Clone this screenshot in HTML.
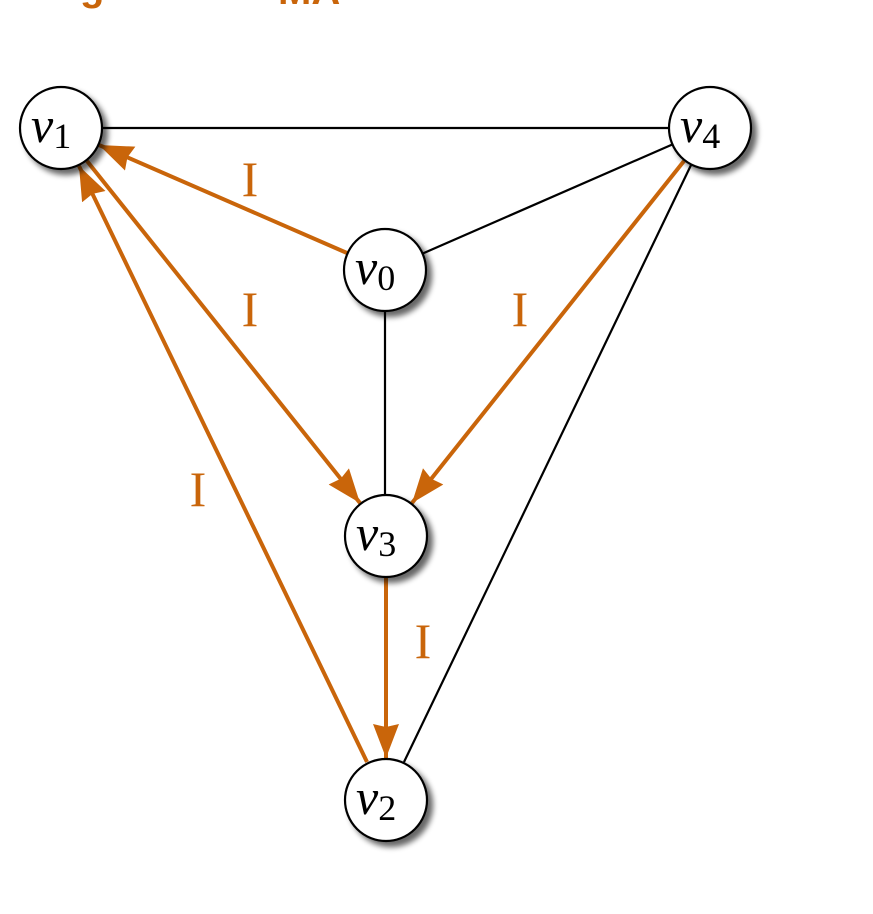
<!DOCTYPE html>
<html><head><meta charset="utf-8"><style>
html,body{margin:0;padding:0;background:#fff;}
svg{display:block}
</style></head><body>
<svg width="873" height="914" viewBox="0 0 873 914" xmlns="http://www.w3.org/2000/svg">
<defs>
<filter id="sh" x="-50%" y="-50%" width="200%" height="200%">
<feGaussianBlur in="SourceAlpha" stdDeviation="3"/>
<feOffset dx="5" dy="5" result="b"/>
<feComponentTransfer><feFuncA type="linear" slope="0.6"/></feComponentTransfer>
<feMerge><feMergeNode/><feMergeNode in="SourceGraphic"/></feMerge>
</filter>
<marker id="ar" markerUnits="userSpaceOnUse" markerWidth="36" markerHeight="32" refX="34" refY="16" orient="auto">
<path d="M0,3 L34,16 L0,29 L3,16 Z" fill="#c9650a"/>
</marker>
</defs>
<text x="80" y="0" font-family="Liberation Sans,sans-serif" font-weight="bold" font-size="40" fill="#c9650a">g</text>
<text x="278" y="4" font-family="Liberation Sans,sans-serif" font-weight="bold" font-size="40" fill="#c9650a">MA</text>
<g stroke="#000" stroke-width="2.2" fill="none">
<line x1="61" y1="128" x2="710" y2="128"/>
<line x1="710" y1="128" x2="385" y2="270"/>
<line x1="385" y1="270" x2="385" y2="536"/>
<line x1="692" y1="163" x2="404" y2="762"/>
</g>
<g stroke="#c9650a" stroke-width="4" fill="none" marker-end="url(#ar)">
<line x1="347" y1="253" x2="99" y2="145"/>
<line x1="87" y1="161" x2="360" y2="503"/>
<line x1="367" y1="762" x2="79" y2="166"/>
<line x1="684" y1="161" x2="412" y2="503"/>
<line x1="386" y1="578" x2="386" y2="758"/>
</g>
<g fill="#fff" stroke="#000" stroke-width="2.2" filter="url(#sh)">
<circle cx="61" cy="128" r="41"/>
<circle cx="710" cy="128" r="41"/>
<circle cx="385" cy="270" r="41"/>
<circle cx="386" cy="536" r="41"/>
<circle cx="386" cy="800" r="41"/>
</g>
<g font-family="Liberation Serif,serif" font-size="50" fill="#000">
<text x="31" y="142" font-style="italic">v<tspan font-style="normal" font-size="36" dy="6">1</tspan></text>
<text x="680" y="142" font-style="italic">v<tspan font-style="normal" font-size="36" dy="6">4</tspan></text>
<text x="355" y="284" font-style="italic">v<tspan font-style="normal" font-size="36" dy="6">0</tspan></text>
<text x="356" y="550" font-style="italic">v<tspan font-style="normal" font-size="36" dy="6">3</tspan></text>
<text x="356" y="814" font-style="italic">v<tspan font-style="normal" font-size="36" dy="6">2</tspan></text>
</g>
<g font-family="Liberation Serif,serif" font-size="50" fill="#c9650a" text-anchor="middle">
<text x="250" y="196">I</text>
<text x="250" y="326">I</text>
<text x="520" y="326">I</text>
<text x="198" y="506">I</text>
<text x="423" y="658">I</text>
</g>
</svg>
</body></html>
